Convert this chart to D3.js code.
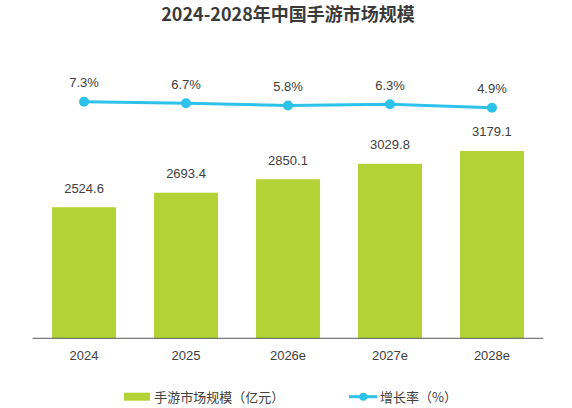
<!DOCTYPE html>
<html>
<head>
<meta charset="utf-8">
<script src="https://cdn.jsdelivr.net/npm/d3@7"></script>
<style>
  body { margin: 0; background: #fff; }
  text { font-family: "Liberation Sans", "Noto Sans CJK SC", sans-serif; }
</style>
</head>
<body>
<svg width="572" height="408"></svg>
<script>
var years = ["2024", "2025", "2026e", "2027e", "2028e"];
var marketSize = [2524.6, 2693.4, 2850.1, 3029.8, 3179.1];
var growthRate = [7.3, 6.7, 5.8, 6.3, 4.9];

var svg = d3.select("svg"),
    left = 32.7,
    right = 543.3,
    baseline = 338.3,
    green = "#b2d235",
    blue = "#2ec1ea",
    textColor = "#404040";

var x = d3.scaleBand()
    .domain(years)
    .range([left, right])
    .paddingInner(0.373)
    .paddingOuter(0.19);

// bars don't start at zero in the original
var y = d3.scaleLinear()
    .domain([1000, 3500])
    .range([baseline, 123.4]);

var y2 = d3.scaleLinear()
    .domain([0, 10])
    .range([120, 95]);

// title
svg.append("text")
    .attr("x", (left + right) / 2)
    .attr("y", 21)
    .attr("text-anchor", "middle")
    .style("font-family", "'Noto Sans CJK SC', sans-serif")
    .style("font-weight", "bold")
    .style("font-size", "18px")
    .style("fill", "#3a3a3a")
    .text("2024-2028年中国手游市场规模");

// bars
svg.selectAll(".bar")
    .data(marketSize)
    .enter().append("rect")
    .attr("class", "bar")
    .attr("x", function(d, i) { return x(years[i]); })
    .attr("y", function(d) { return y(d); })
    .attr("width", x.bandwidth())
    .attr("height", function(d) { return baseline - y(d); })
    .style("fill", green);

svg.selectAll(".bar-label")
    .data(marketSize)
    .enter().append("text")
    .attr("class", "bar-label")
    .attr("x", function(d, i) { return x(years[i]) + x.bandwidth() / 2; })
    .attr("y", function(d) { return y(d) - 14.7; })
    .attr("text-anchor", "middle")
    .style("font-size", "13px")
    .style("fill", textColor)
    .text(function(d) { return d.toFixed(1); });

// x axis
var xAxis = svg.append("g")
    .attr("transform", "translate(0," + baseline + ")")
    .call(d3.axisBottom(x).tickSize(0).tickPadding(12));
xAxis.select(".domain")
    .attr("d", "M" + left + ",0H" + right)
    .style("stroke", "#595959")
    .style("stroke-width", 1);
xAxis.selectAll("text")
    .style("font-family", "'Liberation Sans', sans-serif")
    .style("font-size", "13px")
    .style("fill", textColor);

// growth line
var cx = function(d, i) { return x(years[i]) + x.bandwidth() / 2; };
var line = d3.line()
    .x(cx)
    .y(function(d) { return y2(d); });

svg.append("path")
    .datum(growthRate)
    .attr("d", line)
    .style("fill", "none")
    .style("stroke", blue)
    .style("stroke-width", 3);

svg.selectAll(".dot")
    .data(growthRate)
    .enter().append("circle")
    .attr("class", "dot")
    .attr("cx", cx)
    .attr("cy", function(d) { return y2(d); })
    .attr("r", 5)
    .style("fill", blue);

svg.selectAll(".rate-label")
    .data(growthRate)
    .enter().append("text")
    .attr("class", "rate-label")
    .attr("x", cx)
    .attr("y", function(d) { return y2(d) - 14.7; })
    .attr("text-anchor", "middle")
    .style("font-size", "13px")
    .style("fill", textColor)
    .text(function(d) { return d.toFixed(1) + "%"; });

// legend
var legend = svg.append("g").attr("class", "legend");
legend.append("rect")
    .attr("x", 124)
    .attr("y", 392.7)
    .attr("width", 26)
    .attr("height", 8)
    .style("fill", green);
legend.append("text")
    .attr("x", 154.3)
    .attr("y", 401.8)
    .style("font-family", "'Noto Sans CJK SC', sans-serif")
    .style("font-size", "13px")
    .style("fill", textColor)
    .text("手游市场规模（亿元）");

legend.append("line")
    .attr("x1", 349)
    .attr("x2", 377.3)
    .attr("y1", 396.7)
    .attr("y2", 396.7)
    .style("stroke", blue)
    .style("stroke-width", 3);
legend.append("circle")
    .attr("cx", 363.3)
    .attr("cy", 396.7)
    .attr("r", 4)
    .style("fill", blue);
legend.append("text")
    .attr("x", 380)
    .attr("y", 401.8)
    .style("font-family", "'Noto Sans CJK SC', sans-serif")
    .style("font-size", "13px")
    .style("fill", textColor)
    .text("增长率（%）");
</script>
</body>
</html>
